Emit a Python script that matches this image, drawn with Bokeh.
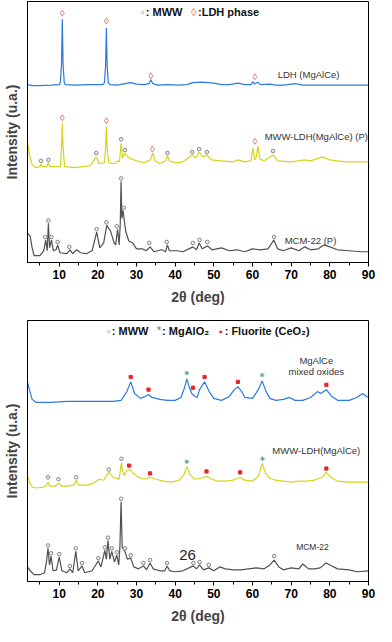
from bokeh.plotting import figure
from bokeh.models import Range1d, FixedTicker, Label
from bokeh.layouts import column
from bokeh.embed import file_html
from bokeh.resources import INLINE

FONT = "Liberation Sans"
BLUE = "#2b7be0"
YELLOW = "#d6d41a"
GRAY = "#505050"
RED = "#e8252a"
DIAMOND_RED = "#f26a6a"
CIRCLE_GRAY = "#7a7a7a"
STAR = "#5fa58c"

X_TICKS = [10, 20, 30, 40, 50, 60, 70, 80, 90]
X_MINOR = [5, 15, 25, 35, 45, 55, 65, 75, 85]

# ---------------- Top panel (as-synthesised) ----------------
ldh_x = [1.8, 3, 5, 8, 10.0, 10.3, 10.6, 10.8, 11.0, 11.3, 11.6, 14, 18, 21.3, 21.7, 22.0, 22.2, 22.4,
         22.7, 23.1, 25, 27, 28.5, 30, 32, 33.2, 33.7, 34.2, 35.5, 38, 41, 43, 44.5, 47, 50, 52, 54,
         56.3, 58, 59.6, 60.1, 60.6, 61.4, 62, 64.6, 66, 68, 71, 73, 80, 90]
ldh_y = [182, 181, 181, 181.5, 182, 184, 203, 249, 203, 184, 182, 181.5, 182, 182, 184, 201, 240, 201,
         184, 182, 181.5, 183, 184, 182.5, 182, 183, 187, 183, 181.5, 182, 181.5, 182, 184, 184.5, 183.5, 182, 182,
         183.5, 182, 182, 185, 182.5, 184.5, 182, 182.5, 181.5, 181.5, 183, 181.5, 181.5, 181.5]
ldh_dia_x = [10.8, 22.2, 33.7, 60.6]
ldh_dia_y = [255, 247, 191, 190]

mwwp_x = [1.8, 2.3, 3.0, 4, 5.0, 5.3, 5.6, 6.8, 7.2, 7.6, 10.3, 10.6, 10.8, 11.0, 11.4, 14, 16, 18, 19.6,
          20.4, 21.7, 22.0, 22.2, 22.4, 22.8, 24.5, 25.0, 25.6, 26.0, 26.4, 27.0, 28, 30, 32, 33.6, 34.2,
          34.8, 36, 37.5, 38, 38.5, 40, 42, 44.4, 45.3, 46.2, 47.2, 48.2, 49.5, 52, 55, 56.3, 58, 59.6,
          60.1, 60.6, 61.0, 61.4, 61.9, 63, 65.3, 66.5, 70, 73.5, 75, 78, 80, 84, 88, 90]
mwwp_y = [123, 110, 100, 97, 98, 101, 98, 98, 102, 98, 98, 118, 142, 118, 98, 97, 98, 99, 108,
          101, 102, 117, 139, 117, 102, 101, 104, 103, 122, 107, 112, 107, 104, 102, 105, 112,
          104, 101, 104, 109, 104, 102, 103, 110, 107, 113, 108, 110, 105, 104, 103, 105, 103, 104,
          117, 105, 108, 119, 106, 104, 110, 104, 103, 105, 104, 108, 105, 103, 103, 103]
mwwp_dia_x = [10.8, 22.2, 34.1, 60.6]
mwwp_dia_y = [148, 145, 116, 124]
mwwp_cir_x = [5.3, 7.2, 19.6, 26.0, 27.0, 38.0, 44.4, 46.2, 48.2, 65.3]
mwwp_cir_y = [104, 105, 112, 126, 115, 112, 113, 116, 113, 114]

mcmp_x = [1.8, 2.5, 3.0, 3.5, 5, 6.0, 6.5, 6.9, 7.2, 7.5, 8.0, 8.5, 9.2, 9.6, 10.2, 12, 12.8, 13.5, 14.5,
          15.5, 17, 18.5, 19.7, 20.5, 21.5, 22.3, 23.3, 24.2, 24.6, 25.1, 25.5, 25.8, 26.0, 26.2, 26.5,
          27.2, 28, 29, 30, 31.5, 32.5, 33.5, 34.5, 36.5, 37.5, 38.0, 38.5, 40.5, 42, 44.6, 45.5, 46.2,
          47, 48.4, 49.5, 52, 54, 56, 58, 60, 62, 64, 65.5, 66.5, 68, 70, 72, 73.5, 75, 77, 78.5, 80,
          82, 85, 88, 90]
mcmp_y = [30, 27, 15, 7, 7, 12, 23, 12, 40, 15, 23, 12, 13, 18, 10, 9, 13, 9, 13,
          10, 9, 12, 31, 15, 20, 38, 32, 20, 18, 34, 18, 40, 83, 45, 53,
          32, 22, 20, 14, 14, 12, 16, 11, 13, 11, 18, 12, 12, 11, 16, 13, 20,
          14, 17, 13, 15, 12, 13, 11, 14, 13, 14, 23, 14, 12, 15, 12, 16, 13, 14, 18, 16,
          13, 12, 11, 11]
mcmp_cir_x = [6.4, 7.2, 8.0, 9.6, 12.6, 19.7, 22.2, 24.9, 26.0, 26.7, 33.3, 37.8, 44.6, 46.3, 48.3, 65.6]
mcmp_cir_y = [26, 43, 26, 21, 16, 34, 41, 37, 86, 56, 20, 21, 20, 23, 21, 26]

# ---------------- Bottom panel (calcined) ----------------
mox_x = [1.8, 2.3, 3.0, 4, 8, 12, 16, 20, 24, 26, 27.5, 28.5, 29.5, 31, 32.2, 33.1, 34, 36, 38, 40,
         41.5, 42.5, 43.0, 43.6, 44.3, 44.8, 45.7, 46.3, 47.6, 48.8, 50, 52, 54, 55.3, 56.2, 57.2, 58,
         60, 61.5, 62.5, 63.5, 64.5, 66, 68, 69.6, 71, 73, 75, 76.8, 77.6, 79.1, 80.5, 82, 85, 87,
         88.5, 89.5, 90]
mox_y = [205, 197, 187, 184, 184, 185, 185, 185, 185, 186, 195, 205, 193, 188, 190, 192, 189, 187, 186, 186,
         189, 200, 208, 200, 193, 191, 189, 197, 205, 195, 188, 186, 190, 197, 200, 195, 189,
         188, 197, 206, 195, 188, 186, 187, 189, 186, 186, 189, 195, 193, 197, 190, 186, 186, 189,
         193, 190, 189]
mox_sq_x = [28.5, 33.1, 44.6, 47.6, 56.2, 79.1]
mox_sq_y = [210, 197, 199, 210, 205, 202]
mox_st_x = [43.0, 62.5]
mox_st_y = [214, 212]

mww_x = [1.8, 2.3, 3.0, 4, 6, 6.8, 7.1, 7.5, 9, 9.8, 10.6, 12, 13.8, 14.4, 15, 17, 19, 20.3, 21.5, 22.8,
         24, 25.5, 25.9, 26.1, 26.3, 26.8, 27.5, 28.2, 29, 30.5, 32, 33.5, 35, 37, 39, 41, 42.3, 43.0,
         43.8, 45, 46.5, 48.2, 49.5, 51, 53, 55, 56.8, 58, 60, 61.5, 62.5, 63.4, 64.5, 66, 68, 70, 72,
         74, 76, 78, 79.1, 80.3, 82, 85, 88, 90]
mww_y = [108, 102, 97, 96, 97, 99, 102, 98, 98, 101, 98, 98, 99, 104, 99, 99, 101, 105, 104, 112,
         107, 105, 117, 122, 115, 109, 114, 115, 112, 107, 105, 107, 105, 103, 102, 104, 110, 118,
         110, 105, 106, 108, 105, 103, 103, 104, 107, 104, 103, 108, 121, 111, 106, 104, 103, 102, 103,
         103, 104, 107, 112, 107, 103, 102, 102, 102]
mww_cir_x = [7.1, 9.8, 14.4, 22.8, 26.1]
mww_cir_y = [107, 105, 107, 115, 126]
mww_sq_x = [28.1, 33.5, 48.1, 56.8, 79.1]
mww_sq_y = [119, 111, 113, 112, 116]
mww_st_x = [43.0, 62.6]
mww_st_y = [123, 126]

mcm_x = [1.8, 2.5, 3.5, 5, 6.2, 6.7, 7.1, 7.5, 7.9, 8.4, 9.3, 10.0, 10.7, 12, 12.8, 13.5, 14.3, 14.9, 15.9,
         16.6, 18.5, 20.1, 20.8, 21.8, 22.2, 22.6, 23.1, 23.6, 24.3, 24.9, 25.4, 25.7, 26.0, 26.3, 27.0,
         27.6, 28.5, 29.3, 30.5, 31.8, 32.6, 33.5, 34.3, 36, 37.3, 37.9, 38.6, 40, 42, 44.7, 45.5, 46.3,
         47.3, 48.7, 50, 51.5, 53, 55, 57, 59, 61, 63, 64.5, 65.6, 66.8, 68, 70, 72, 73, 74.5, 76, 77.5,
         79, 80.5, 82, 85, 87, 90]
mcm_y = [15, 11, 7, 7, 9, 20, 34, 17, 26, 11, 12, 25, 11, 9, 13, 9, 31, 11, 16,
         9, 11, 21, 15, 32, 23, 42, 23, 31, 20, 27, 17, 35, 82, 35, 31,
         23, 24, 15, 13, 16, 12, 19, 13, 11, 11, 16, 11, 10, 11, 16, 13, 17,
         12, 14, 11, 15, 13, 12, 12, 13, 14, 13, 17, 22, 15, 12, 14, 13, 18, 13, 13, 14,
         19, 16, 13, 12, 10, 11]
mcm_cir_x = [7.1, 7.9, 10.0, 12.8, 14.3, 15.9, 20.1, 21.8, 22.6, 23.6, 24.9, 26.0, 27.0, 28.5, 31.8, 33.5,
             37.9, 44.7, 46.3, 48.7, 65.6]
mcm_cir_y = [37, 29, 28, 16, 34, 19, 24, 35, 45, 34, 30, 85, 34, 27, 19, 22, 19, 19, 20, 17, 26]


def make_panel(height, border_bottom, ymax, label_pt, title_pt):
    p = figure(width=376, height=height, x_range=Range1d(1.8, 90), y_range=Range1d(0, ymax),
               output_backend="svg", toolbar_location=None,
               min_border_left=26, min_border_right=8, min_border_top=1,
               min_border_bottom=border_bottom)
    p.xgrid.visible = False
    p.ygrid.visible = False
    p.outline_line_color = "black"
    p.outline_line_width = 1
    p.background_fill_color = "white"
    p.border_fill_color = "white"
    ax = p.xaxis[0]
    ax.ticker = FixedTicker(ticks=X_TICKS, minor_ticks=X_MINOR)
    ax.major_tick_in = 0
    ax.major_tick_out = 4
    ax.minor_tick_in = 0
    ax.minor_tick_out = 3
    ax.major_label_standoff = 3
    ax.major_label_text_font = FONT
    ax.major_label_text_font_style = "bold"
    ax.major_label_text_font_size = label_pt
    ax.major_label_text_color = "black"
    ax.axis_label = "2θ (deg)"
    ax.axis_label_text_font = FONT
    ax.axis_label_text_font_style = "bold"
    ax.axis_label_text_font_size = title_pt
    ax.axis_label_standoff = 7
    ax.axis_line_color = "black"
    ay = p.yaxis[0]
    ay.ticker = FixedTicker(ticks=[])
    ay.major_tick_line_color = None
    ay.minor_tick_line_color = None
    ay.major_label_standoff = 0
    ay.axis_label = "Intensity (u.a.)"
    ay.axis_label_text_font = FONT
    ay.axis_label_text_font_style = "bold"
    ay.axis_label_text_font_size = title_pt
    ay.axis_label_standoff = 8
    ay.axis_line_color = "black"
    return p


def add_text(p, x, y, text, size="10px", color="#333333", bold=False, align="center"):
    p.add_layout(Label(x=x, y=y, text=text, text_font=FONT, text_font_size=size,
                       text_color=color, text_align=align, text_baseline="middle",
                       text_font_style="bold" if bold else "normal"))


def circles(p, xs, ys):
    p.scatter(xs, ys, marker="circle", size=3.6, fill_color="#eeeeee",
              line_color=CIRCLE_GRAY, line_width=0.9)


def diamonds(p, xs, ys):
    p.scatter(xs, ys, marker="diamond", size=6, fill_color="white",
              line_color=DIAMOND_RED, line_width=0.9)


def squares(p, xs, ys):
    p.scatter(xs, ys, marker="square", size=3.2, fill_color=RED, line_color=RED)


def stars(p, xs, ys):
    p.scatter(xs, ys, marker="asterisk", size=4.5, line_color=STAR, line_width=1)


# ---- top ----
top = make_panel(319, 57, 267, "12px", "14px")
top.line(mcmp_x, mcmp_y, line_color=GRAY, line_width=1.2)
top.line(mwwp_x, mwwp_y, line_color=YELLOW, line_width=1.2)
top.line(ldh_x, ldh_y, line_color=BLUE, line_width=1.2)
circles(top, mcmp_cir_x, mcmp_cir_y)
circles(top, mwwp_cir_x, mwwp_cir_y)
diamonds(top, mwwp_dia_x, mwwp_dia_y)
diamonds(top, ldh_dia_x, ldh_dia_y)
add_text(top, 74.5, 192, "LDH (MgAlCe)", size="9.5px")
add_text(top, 76.5, 129, "MWW-LDH(MgAlCe) (P)", size="9.5px")
add_text(top, 75.0, 23, "MCM-22 (P)", size="9.5px")
# legend
add_text(top, 31.6, 256, "◦", size="11px", color=CIRCLE_GRAY, bold=True)
add_text(top, 32.4, 256, ": MWW", size="11px", color="#111111", bold=True, align="left")
add_text(top, 44.8, 256, "◊", size="11px", color=DIAMOND_RED, bold=False)
add_text(top, 45.9, 256, ":LDH phase", size="11px", color="#111111", bold=True, align="left")

# ---- bottom ----
bot = make_panel(307, 42, 268, "12px", "14px")
bot.line(mcm_x, mcm_y, line_color=GRAY, line_width=1.2)
bot.line(mww_x, mww_y, line_color=YELLOW, line_width=1.2)
bot.line(mox_x, mox_y, line_color=BLUE, line_width=1.2)
circles(bot, mcm_cir_x, mcm_cir_y)
circles(bot, mww_cir_x, mww_cir_y)
squares(bot, mww_sq_x, mww_sq_y)
stars(bot, mww_st_x, mww_st_y)
squares(bot, mox_sq_x, mox_sq_y)
stars(bot, mox_st_x, mox_st_y)
add_text(bot, 76.5, 227, "MgAlCe", size="9.5px")
add_text(bot, 76.5, 216, "mixed oxides", size="9.5px")
add_text(bot, 76.5, 135, "MWW-LDH(MgAlCe)", size="9.5px")
add_text(bot, 75.5, 35, "MCM-22", size="8.5px")
add_text(bot, 43.2, 27, "26", size="15px", color="#222222", align="center")
# legend
add_text(bot, 22.8, 257, "◦", size="11px", color=CIRCLE_GRAY, bold=True)
add_text(bot, 23.6, 257, ": MWW", size="11px", color="#111111", bold=True, align="left")
add_text(bot, 35.8, 258, "*", size="10px", color=STAR, bold=True)
add_text(bot, 36.6, 257, ": MgAlO₂", size="11px", color="#111111", bold=True, align="left")
add_text(bot, 51.8, 257, "▪", size="10px", color=RED, bold=True)
add_text(bot, 52.8, 257, ": Fluorite (CeO₂)", size="11px", color="#111111", bold=True, align="left")

layout = column(top, bot, spacing=0)
open("out.html", "w").write(file_html(layout, INLINE))
